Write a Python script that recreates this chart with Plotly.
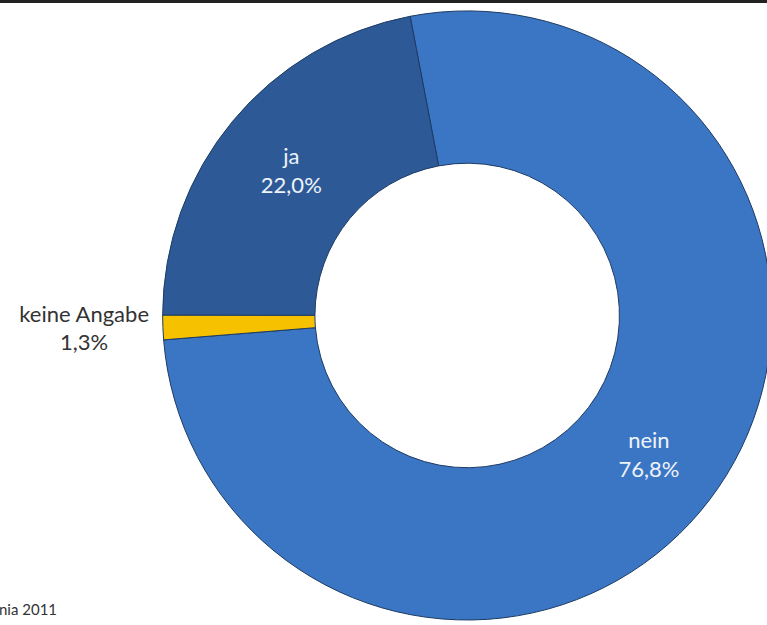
import plotly.graph_objects as go

# Survey answers, in clockwise drawing order from the top
labels = ["nein", "keine Angabe", "ja"]
values = [76.8, 1.3, 22.0]
value_text = ["76,8%", "1,3%", "22,0%"]

slice_colors = ["#3b76c5", "#f6c200", "#2d5a96"]
text_colors = ["#eef3fa", "#333333", "#eef3fa"]
text_positions = ["inside", "outside", "inside"]

W, H = 780, 625
cx, cy, r = 469, 318, 307

fig = go.Figure(
    go.Pie(
        labels=labels,
        values=values,
        customdata=value_text,
        sort=False,
        direction="clockwise",
        rotation=-10.8,
        hole=0.5,
        marker=dict(colors=slice_colors, line=dict(color="#1d3b63", width=1)),
        texttemplate="%{label}<br>%{customdata}",
        textposition=text_positions,
        insidetextorientation="horizontal",
        textfont=dict(family="Lato", size=22, color=text_colors),
        hoverinfo="label+percent",
        domain=dict(x=[(cx - r) / W, (cx + r) / W],
                    y=[max(0, (H - cy - r) / H), min(1, (H - cy + r) / H)]),
        showlegend=False,
    )
)

fig.update_layout(
    width=W,
    height=H,
    margin=dict(l=0, r=0, t=0, b=0, pad=0),
    paper_bgcolor="white",
    plot_bgcolor="white",
    shapes=[
        dict(type="line", xref="paper", yref="paper", x0=0, x1=1, y0=1 - 1.5 / H, y1=1 - 1.5 / H,
             line=dict(color="#222222", width=3)),
    ],
    annotations=[
        dict(text="nia 2011", xref="paper", yref="paper", x=-3 / W, y=11 / H,
             xanchor="left", yanchor="middle", showarrow=False,
             font=dict(family="Lato", size=15, color="#333333")),
    ],
)

fig.write_html("out.html")
